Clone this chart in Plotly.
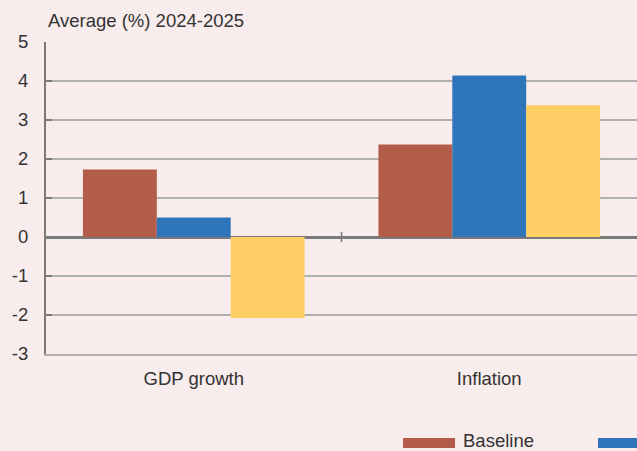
import plotly.graph_objects as go

categories = ["GDP growth", "Inflation"]
series_names = ["Baseline", "Scenario 2", "Scenario 3"]
baseline = [1.73, 2.37]
scenario2 = [0.5, 4.14]
scenario3 = [-2.08, 3.38]
colors = ["#b35c49", "#2e76b9", "#ffce65"]
y_ticks = [-3, -2, -1, 0, 1, 2, 3, 4, 5]

BG = "#f8ecec"
FONT = "Liberation Sans, Arial, sans-serif"
FS = 18.5

fig = go.Figure()
for name, vals, col in zip(series_names, [baseline, scenario2, scenario3], colors):
    fig.add_trace(go.Bar(x=categories, y=vals, name=name, marker_color=col,
                         marker_line_width=0, showlegend=False))

# category separator tick on the zero line
fig.add_shape(type="line", xref="x", yref="y", x0=0.5, x1=0.5, y0=-0.13, y1=0.13,
              line=dict(color="#7a7a7a", width=1.5))

# manual legend (swatches + text)
fig.add_shape(type="rect", xref="paper", yref="paper",
              x0=(403 - 46) / 591, x1=(455 - 46) / 591,
              y0=-(438 - 354) / 312, y1=-(448 - 354) / 312,
              fillcolor=colors[0], line_width=0)
fig.add_annotation(xref="paper", yref="paper", x=(461 - 46) / 591, y=-(440.5 - 354) / 312,
                   text=series_names[0], showarrow=False, xanchor="left", yanchor="middle",
                   font=dict(size=FS, color="#333333", family=FONT))
fig.add_shape(type="rect", xref="paper", yref="paper",
              x0=(598 - 46) / 591, x1=(650 - 46) / 591,
              y0=-(438 - 354) / 312, y1=-(448 - 354) / 312,
              fillcolor=colors[1], line_width=0)

fig.update_layout(
    width=637, height=451,
    margin=dict(l=46, r=0, t=42, b=97),
    paper_bgcolor=BG, plot_bgcolor=BG,
    barmode="group", bargap=0.25, bargroupgap=0,
    font=dict(family=FONT, size=FS, color="#333333"),
    showlegend=False,
    annotations=list(fig.layout.annotations) + [
        dict(xref="paper", yref="paper", x=0, y=1, yshift=22, xanchor="left", yanchor="middle",
             text="Average (%) 2024-2025", showarrow=False,
             font=dict(size=FS, color="#333333", family=FONT))
    ],
)
fig.update_yaxes(range=[-3, 5], tickvals=y_ticks, ticktext=[str(v) for v in y_ticks],
                 showgrid=True, gridcolor="#b0b0b0", gridwidth=1.5,
                 zeroline=True, zerolinecolor="#7a7a7a", zerolinewidth=2.5,
                 showline=True, linecolor="#7a7a7a", linewidth=2,
                 ticks="inside", ticklen=6, tickcolor="#7a7a7a", tickwidth=2,
                 ticklabelstandoff=12,
                 tickfont=dict(size=FS, color="#333333"), fixedrange=True)
fig.update_xaxes(showline=True, linecolor="#b0b0b0", linewidth=1.5,
                 showgrid=False, ticks="", ticklabelstandoff=7,
                 tickfont=dict(size=FS, color="#333333"), fixedrange=True)

fig.write_html("out.html")
